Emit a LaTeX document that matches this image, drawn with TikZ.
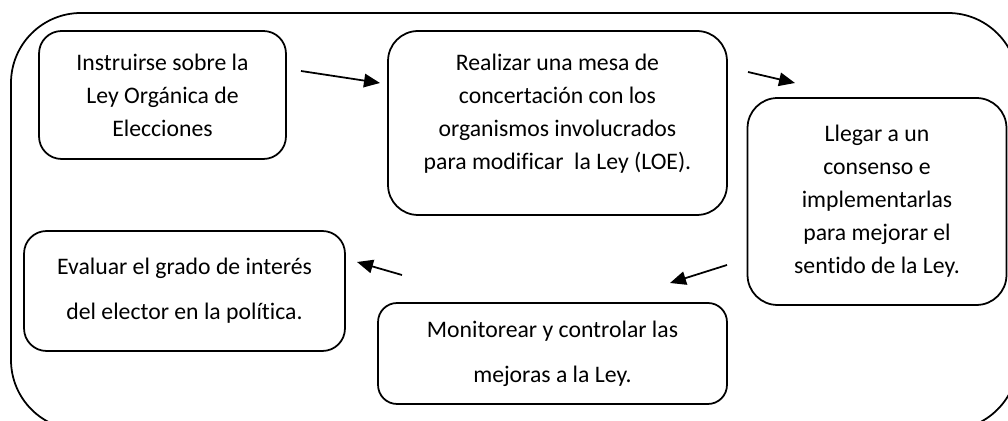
\documentclass[tikz,border=0pt]{standalone}
\usepackage{fontspec}
\setmainfont{Carlito}[Ligatures=NoCommon]
\usetikzlibrary{arrows.meta}

\tikzset{
	paso/.style={draw=black, line width=1pt, rounded corners=0.45cm, align=center, inner sep=0pt, font=\fontsize{13.5}{18.8}\selectfont},
	pasogrande/.style={paso, rounded corners=0.6cm},
	texto/.style={align=center, inner sep=0pt, font=\fontsize{13.5}{18.8}\selectfont},
	flecha/.style={black, line width=1pt, -{Triangle[length=0.32cm,width=0.27cm]}}
}

\begin{document}
\begin{tikzpicture}[x=0.02cm, y=0.02cm]
		\useasboundingbox (0,0) rectangle (1008,-421);
		\begin{scope}
			\clip (0,0) rectangle (1008,-421);
			\draw [black, line width=1pt, rounded corners=1.4cm] (11,-13) rectangle (1018,-430);
		\end{scope}
		\node [paso, minimum width=4.94cm, minimum height=2.56cm] (instruir) at (162.5,-95) {Instruirse sobre la\\Ley Orgánica de\\Elecciones};
		\node [pasogrande, minimum width=6.78cm, minimum height=3.68cm] (mesa) at (557.5,-123) {};
		\node [texto] (mesatexto) at (557.5,-114) {Realizar una mesa de\\concertación con los\\organismos involucrados\\para modificar\ \ la Ley (LOE).};
		\node [pasogrande, minimum width=5.18cm, minimum height=4.14cm] (consenso) at (877,-201.5) {Llegar a un\\consenso e\\implementarlas\\para mejorar el\\sentido de la Ley.};
		\node [paso, minimum width=6.98cm, minimum height=2.02cm, rounded corners=0.38cm] (monitorear) at (552.5,-353.5) {Monitorear y controlar las\\[6.8pt]mejoras a la Ley.};
		\node [paso, minimum width=6.42cm, minimum height=2.4cm] (evaluar) at (184.5,-291) {Evaluar el grado de interés\\[6.8pt]del elector en la política.};
		\coordinate (f1a) at (301,-71);
		\coordinate (f1b) at (380,-83);
		\coordinate (f2a) at (748,-72);
		\coordinate (f2b) at (795,-83);
		\coordinate (f3a) at (727,-265);
		\coordinate (f3b) at (670,-283);
		\coordinate (f4a) at (402,-275);
		\coordinate (f4b) at (357,-262);
		\draw [flecha] (f1a) -- (f1b);
		\draw [flecha] (f2a) -- (f2b);
		\draw [flecha] (f3a) -- (f3b);
		\draw [flecha] (f4a) -- (f4b);
\end{tikzpicture}
\end{document}
